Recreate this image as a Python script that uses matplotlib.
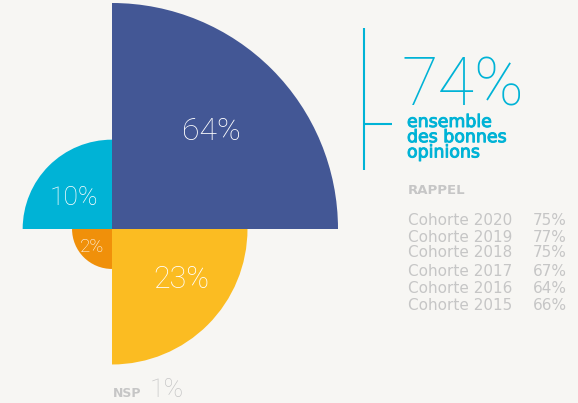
"""Polar-area style opinion chart (quarter circles, area proportional to share)."""
import matplotlib.pyplot as plt
import matplotlib.patheffects as pe
import numpy as np
from matplotlib.patches import Wedge

# data
shares = [64, 10, 2, 23]
share_labels = ["64%", "10%", "2%", "23%"]
colors = ["#435795", "#00b3d6", "#f0900a", "#fbbc22"]
total_good = "74%"
total_caption = ["ensemble", "des bonnes", "opinions"]
nsp_value = "1%"
cohorts = ["Cohorte 2020", "Cohorte 2019", "Cohorte 2018", "Cohorte 2017", "Cohorte 2016", "Cohorte 2015"]
cohort_values = ["75%", "77%", "75%", "67%", "64%", "66%"]

BG = "#f7f6f3"
GREY = "#c6c6c6"
CYAN = "#00b3d6"
W, H = 578, 403
THIN = ["Roboto", "DejaVu Sans"]
WIDE = ["DejaVu Sans"]

fig = plt.figure(figsize=(W / 100, H / 100), dpi=100, facecolor=BG)
ax = fig.add_axes([0, 0, 1, 1])
ax.set_facecolor(BG)
ax.set_xlim(0, W)
ax.set_ylim(H, 0)
ax.set_aspect("equal")
ax.axis("off")

cx, cy = 112, 229
scale = 226 / np.sqrt(max(shares))
# inverted y axis: angles run clockwise on screen
starts = [270, 180, 90, 0]
label_pos = [(211, 140.5), (73.5, 205), (92, 251.5), (181, 288)]
label_size = [23, 19, 13.5, 22]
for val, col, th, lab, pos, fs in zip(shares, colors, starts, share_labels, label_pos, label_size):
    r = scale * np.sqrt(val)
    ax.add_patch(Wedge((cx, cy), r, th, th + 90, facecolor=col, edgecolor="none"))
    ax.text(pos[0], pos[1], lab, color="white", fontsize=fs, fontweight="light",
            family=THIN, ha="center", va="baseline")

# bracket on the right
ax.plot([364, 364], [28, 170], color=CYAN, lw=1.5, solid_capstyle="butt")
ax.plot([364, 392], [124, 124], color=CYAN, lw=1.5, solid_capstyle="butt")
ax.text(401, 105, total_good, color=CYAN, fontsize=48, fontweight="light", family=THIN,
        ha="left", va="baseline")
# caption as a single block with tight leading
ax.text(407, 113, "\n".join(total_caption), color=CYAN, fontsize=12.5, family=WIDE,
        ha="left", va="top", linespacing=0.8,
        path_effects=[pe.withStroke(linewidth=0.7, foreground=CYAN)])

ax.text(408, 194, "RAPPEL", color=GREY, fontsize=9.5, fontweight="bold", family=WIDE,
        ha="left", va="baseline")
row_y = [225, 242, 257, 276, 293, 310]
for name, v, y in zip(cohorts, cohort_values, row_y):
    ax.text(408, y, name, color=GREY, fontsize=11, family=WIDE, ha="left", va="baseline")
    ax.text(567, y, v, color=GREY, fontsize=11, family=WIDE, ha="right", va="baseline")

ax.text(113, 397, "NSP", color=GREY, fontsize=9, fontweight="bold", family=WIDE,
        ha="left", va="baseline")
ax.text(150, 397, nsp_value, color=GREY, fontsize=19, fontweight="light", family=THIN,
        ha="left", va="baseline")

fig.savefig("out.png", dpi=100, facecolor=BG)
